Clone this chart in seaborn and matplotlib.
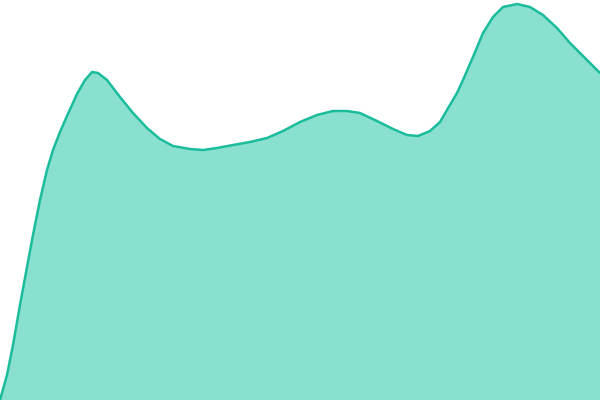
import matplotlib
matplotlib.use("Agg")
import matplotlib.pyplot as plt
import seaborn as sns
import pandas as pd

# Values: x position and height above the bottom edge
x_vals = [0, 7, 13, 20, 27, 33, 40, 47, 53, 60, 67, 77, 85, 92, 98, 107, 120, 133,
          147, 160, 173, 190, 203, 217, 233, 250, 267, 283, 300, 317, 333, 347,
          360, 377, 393, 407, 418, 430, 440, 447, 457, 463, 473, 483, 493, 503,
          517, 530, 543, 557, 570, 587, 600]
heights = [0, 25, 55, 95, 133, 165, 200, 230, 250, 268, 284, 306, 320, 328, 327,
           320, 303, 287, 272, 261, 254, 251, 250, 252, 255, 258, 262, 269, 278,
           285, 289, 289, 287, 279, 271, 265, 264, 269, 278, 290, 307, 320, 343,
           367, 383, 393, 396, 393, 385, 372, 357, 340, 327]

df = pd.DataFrame({"x": x_vals, "y": heights})

sns.set_theme(style="white")
fig = plt.figure(figsize=(6, 4), dpi=100)
ax = fig.add_axes([0, 0, 1, 1])
ax.fill_between(df["x"], df["y"], 0, color="#8ae0cf", linewidth=0)
sns.lineplot(data=df, x="x", y="y", ax=ax, color="#1abc9c", linewidth=1.8,
             solid_joinstyle="round")
ax.set_xlim(0, 600)
ax.set_ylim(0, 400)
ax.axis("off")
fig.savefig("out.png", dpi=100)
